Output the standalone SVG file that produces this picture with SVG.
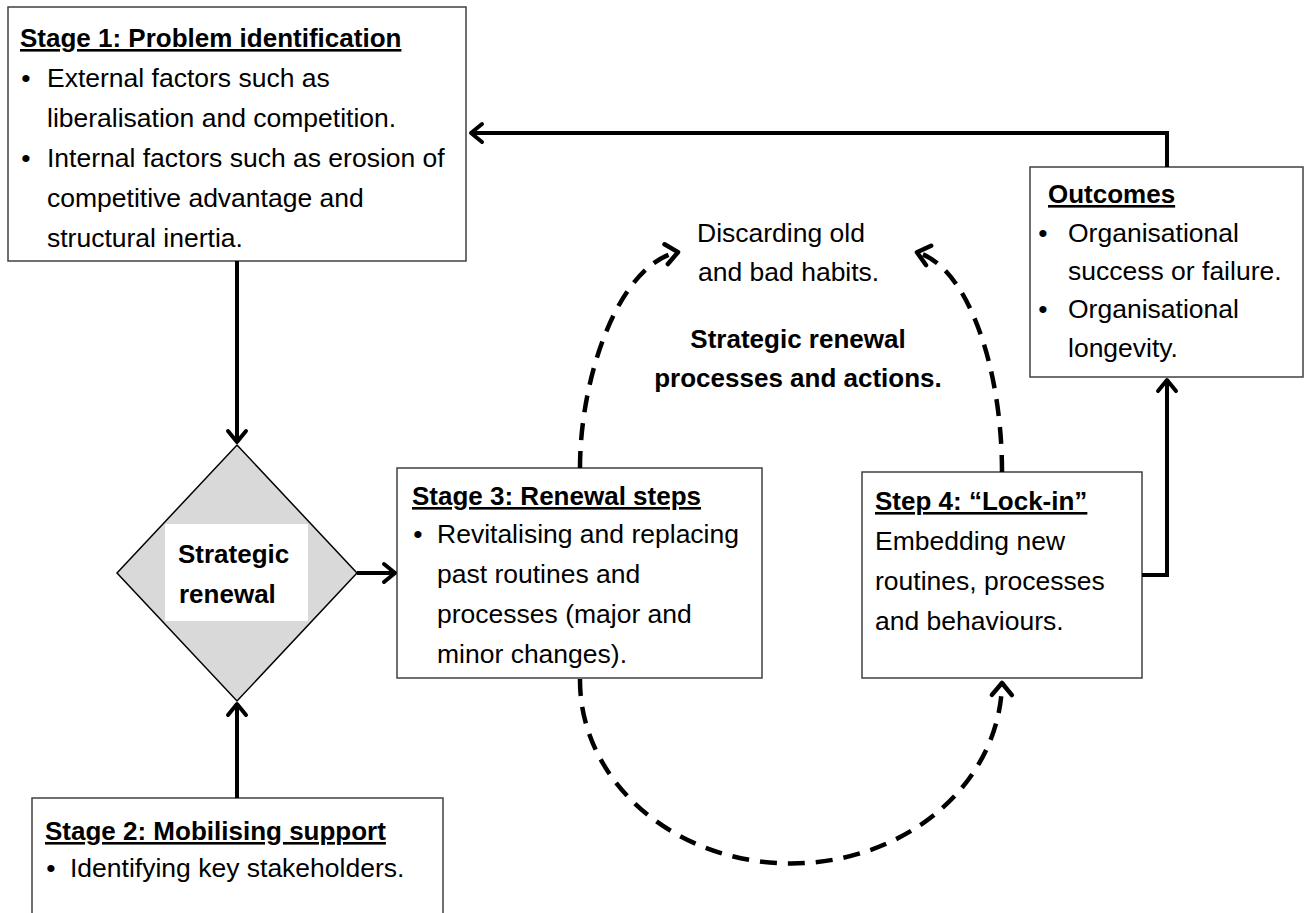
<svg xmlns="http://www.w3.org/2000/svg" width="1308" height="913" viewBox="0 0 1308 913">
<style>
text{font-family:"Liberation Sans",Arial,sans-serif;font-size:26.5px;fill:#000}
.b{font-weight:bold;font-size:26px}
.u{text-decoration:underline}
.box{fill:#fff;stroke:#404040;stroke-width:1.5}
.con{fill:none;stroke:#000;stroke-width:4}
.dash{fill:none;stroke:#000;stroke-width:4.5;stroke-dasharray:17 11}
.mid{text-anchor:middle}
</style>
<defs>
<marker id="arr" markerUnits="userSpaceOnUse" markerWidth="40" markerHeight="40" viewBox="-20 -20 40 40" refX="0" refY="0" orient="auto" overflow="visible">
<path d="M-12,-9 L-1,0 L-12,9" fill="none" stroke="#000" stroke-width="4" stroke-linecap="round" stroke-linejoin="round"/>
</marker>
<marker id="arrd" markerUnits="userSpaceOnUse" markerWidth="40" markerHeight="40" viewBox="-20 -20 40 40" refX="0" refY="0" orient="auto" overflow="visible">
<path d="M-13,-10 L-1,0 L-13,10" fill="none" stroke="#000" stroke-width="4.5" stroke-linecap="round" stroke-linejoin="round"/>
</marker>
</defs>
<rect width="1308" height="913" fill="#fff"/>

<g id="stage1">
<rect class="box" x="8" y="7" width="458" height="254"/>
<text class="b u" x="20" y="47">Stage 1: Problem identification</text>
<text class="mid" x="26" y="87">•</text>
<text x="47" y="87">External factors such as</text>
<text x="47" y="127">liberalisation and competition.</text>
<text class="mid" x="26" y="167">•</text>
<text x="47" y="167">Internal factors such as erosion of</text>
<text x="47" y="207">competitive advantage and</text>
<text x="47" y="247">structural inertia.</text>
</g>

<g id="diamond">
<polygon points="237,445 357,573 237,701 117,573" fill="#d9d9d9" stroke="#000" stroke-width="1.5"/>
<rect x="165" y="524" width="143" height="97" fill="#fff"/>
<text class="b" x="178" y="563">Strategic</text>
<text class="b" x="179" y="603">renewal</text>
</g>

<g id="stage3">
<rect class="box" x="397" y="468" width="365" height="210"/>
<text class="b u" x="412" y="505">Stage 3: Renewal steps</text>
<text class="mid" x="418" y="543">•</text>
<text x="437" y="543">Revitalising and replacing</text>
<text x="437" y="583">past routines and</text>
<text x="437" y="623">processes (major and</text>
<text x="437" y="663">minor changes).</text>
</g>

<g id="step4">
<rect class="box" x="862" y="472" width="280" height="206"/>
<text class="b u" x="875" y="510">Step 4: “Lock-in”</text>
<text x="875" y="550">Embedding new</text>
<text x="875" y="590">routines, processes</text>
<text x="875" y="630">and behaviours.</text>
</g>

<g id="outcomes">
<rect class="box" x="1030" y="167" width="273" height="210"/>
<text class="b u" x="1048" y="203">Outcomes</text>
<text class="mid" x="1043" y="242">•</text>
<text x="1068" y="242">Organisational</text>
<text x="1068" y="280">success or failure.</text>
<text class="mid" x="1043" y="318">•</text>
<text x="1068" y="318">Organisational</text>
<text x="1068" y="357">longevity.</text>
</g>

<g id="stage2">
<rect class="box" x="32" y="798" width="411" height="140"/>
<text class="b u" x="45" y="840">Stage 2: Mobilising support</text>
<text class="mid" x="51" y="877">•</text>
<text x="70" y="877">Identifying key stakeholders.</text>
</g>

<g id="labels">
<text x="697" y="242">Discarding old</text>
<text x="698" y="281">and bad habits.</text>
<text class="b mid" x="798" y="348">Strategic renewal</text>
<text class="b mid" x="798" y="387">processes and actions.</text>
</g>

<g id="connectors">
<path class="con" d="M1167,167 V133 H470" marker-end="url(#arr)"/>
<path class="con" d="M237,261 V443" marker-end="url(#arr)"/>
<path class="con" d="M357,573 H396" marker-end="url(#arr)"/>
<path class="con" d="M237,798 V703" marker-end="url(#arr)"/>
<path class="con" d="M1142,575 H1167 V379" marker-end="url(#arr)"/>
<path class="dash" d="M580,468 C580,375 620,262 679,252" marker-end="url(#arrd)"/>
<path class="dash" d="M1002,472 C1002,368 968,266 916,252" marker-end="url(#arrd)"/>
<path class="dash" d="M580,679 A211,183 0 0 0 1002,682" marker-end="url(#arrd)"/>
</g>
</svg>
